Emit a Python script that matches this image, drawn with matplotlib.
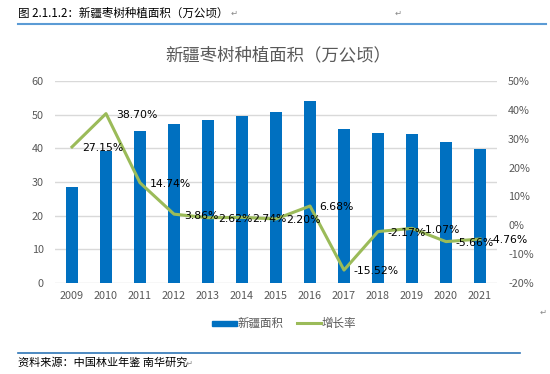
import matplotlib
matplotlib.use("Agg")
import matplotlib.pyplot as plt
from matplotlib.lines import Line2D
from matplotlib.patches import Rectangle

plt.rcParams['font.family'] = ['Noto Sans CJK SC', 'DejaVu Sans']

years = ['2009', '2010', '2011', '2012', '2013', '2014', '2015',
         '2016', '2017', '2018', '2019', '2020', '2021']
area = [28.5, 39.2, 45.2, 47.2, 48.4, 49.6, 50.8, 54.0, 45.8, 44.6, 44.2, 41.8, 39.7]
growth = [27.15, 38.70, 14.74, 3.86, 2.62, 2.74, 2.20, 6.68, -15.52, -2.17, -1.07, -5.66, -4.76]
left_ticks = [0, 10, 20, 30, 40, 50, 60]
right_ticks = [-20, -10, 0, 10, 20, 30, 40, 50]

bar_color = '#0070C0'
line_color = '#9BBB59'
gray = '#595959'

W, H = 550, 374
fig = plt.figure(figsize=(W / 100, H / 100), dpi=100)

ax = fig.add_axes([55 / W, 1 - 283 / H, (497 - 55) / W, (283 - 81) / H])
x = list(range(len(years)))
ax.bar(x, area, width=0.33, color=bar_color, zorder=2)
ax.set_ylim(0, 60)
ax.set_xlim(-0.5, len(years) - 0.5)
ax.set_yticks(left_ticks)
ax.set_xticks(x)
ax.set_xticklabels(years)
ax.grid(axis='y', color='#D9D9D9', linewidth=1, zorder=0)
for s in ax.spines.values():
    s.set_visible(False)
ax.tick_params(length=0, labelsize=7.8, labelcolor=gray, pad=6)
ax.tick_params(axis='y', pad=8)

ax2 = ax.twinx()
ax2.plot(x, growth, color=line_color, linewidth=2.2, zorder=3)
ax2.set_ylim(-20, 50)
ax2.set_yticks(right_ticks)
ax2.set_yticklabels([f'{t}%' for t in right_ticks])
for s in ax2.spines.values():
    s.set_visible(False)
ax2.tick_params(length=0, labelsize=7.8, labelcolor=gray, pad=8)
for xi, g in zip(x, growth):
    ax2.annotate(f'{g:.2f}%', (xi, g), xytext=(7, -1), textcoords='offset points',
                 ha='left', va='center', fontsize=7.8, color='black', zorder=4,
                 family=['DejaVu Sans'])

fig.text(278 / W, 1 - 55 / H, '新疆枣树种植面积（万公顷）', ha='center', va='center',
         fontsize=12.5, color=gray)

# legend
fig.patches.append(Rectangle((212 / W, 1 - 326 / H), 25 / W, 5 / H,
                             transform=fig.transFigure, color=bar_color))
fig.text(238 / W, 1 - 323 / H, '新疆面积', ha='left', va='center', fontsize=8.3, color=gray)
fig.lines.append(Line2D([297 / W, 321 / W], [1 - 323 / H, 1 - 323 / H],
                        transform=fig.transFigure, color=line_color, linewidth=2.2))
fig.text(322 / W, 1 - 323 / H, '增长率', ha='left', va='center', fontsize=8.3, color=gray)

# header and footer
fig.text(18 / W, 1 - 13 / H, '图 2.1.1.2：新疆枣树种植面积（万公顷）', ha='left', va='center',
         fontsize=8.3, color='black')
fig.text(231 / W, 1 - 13 / H, '↵', ha='left', va='center', fontsize=6, color='#888888',
         family=['DejaVu Sans'])
fig.lines.append(Line2D([18 / W, 546 / W], [1 - 24 / H, 1 - 24 / H],
                        transform=fig.transFigure, color='#5B9BD5', linewidth=1.5))
fig.text(395 / W, 1 - 13 / H, '↵', ha='left', va='center', fontsize=6, color='#888888',
         family=['DejaVu Sans'])
fig.lines.append(Line2D([18 / W, 520 / W], [1 - 353 / H, 1 - 353 / H],
                        transform=fig.transFigure, color='#2E75B6', linewidth=1.2))
fig.text(18 / W, 1 - 363 / H, '资料来源：中国林业年鉴 南华研究', ha='left', va='center',
         fontsize=8, color='black')
fig.text(186 / W, 1 - 363 / H, '↵', ha='left', va='center', fontsize=6, color='#888888',
         family=['DejaVu Sans'])
fig.text(540 / W, 1 - 312 / H, '↵', ha='left', va='center', fontsize=6, color='#888888',
         family=['DejaVu Sans'])

fig.savefig('out.png', dpi=100, facecolor='white')
